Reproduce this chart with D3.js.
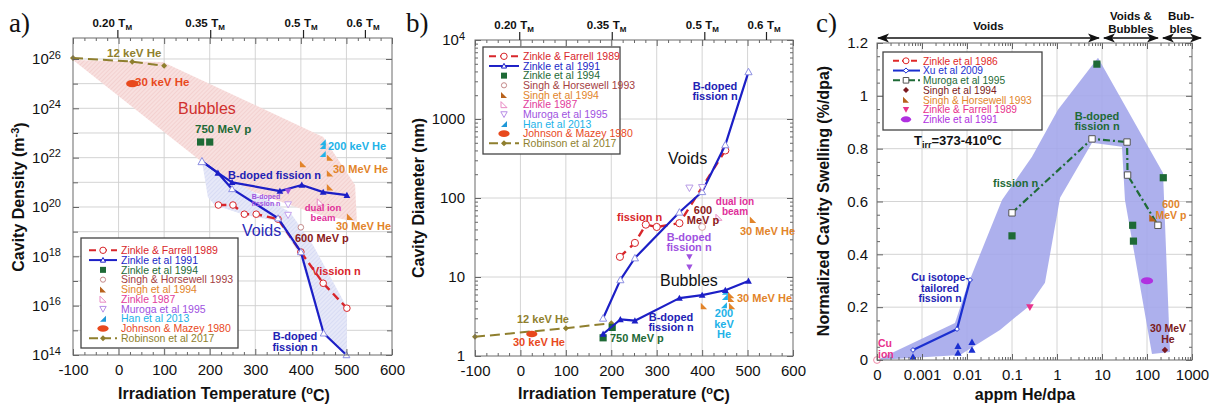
<!DOCTYPE html>
<html>
<head>
<meta charset="utf-8">
<script src="https://cdn.jsdelivr.net/npm/d3@7/dist/d3.min.js"></script>
<style>
  html, body { margin: 0; padding: 0; background: #fff; }
  svg { display: block; font-family: "Liberation Sans", Arial, Helvetica, sans-serif; }
</style>
</head>
<body>
<svg id="fig" width="1212" height="407"></svg>
<script>
// ---------- shared axis data ----------
const T_MELT_K = 1358;                       // melting point of Cu, K
const tmFractions = [0.20, 0.35, 0.5, 0.6];
const tmLabels = ["0.20", "0.35", "0.5", "0.6"];
const tempTicks = [-100, 0, 100, 200, 300, 400, 500, 600];

// ---------- (a) cavity density (m^-3) vs irradiation temperature (°C) ----------
const aDensityExp = [14, 16, 18, 20, 22, 24, 26];
const aZinkleFarrell1989 = [[219,1.2e20],[251,1.2e20],[276,5.1e19],[302,5.1e19],[350,3.2e19],[400,1.5e18],[449,8.1e16],[501,7.9e15]];
const aZinkle1991Bubbles = [[183,7.0e21],[218,2.4e21],[249,1.0e21],[354,4.4e20],[402,7.8e20],[449,4.0e20],[501,3.0e20]];
const aZinkle1991Voids = [[183,7.0e21],[218,2.4e21],[249,5.4e20],[350,3.5e19],[400,1.5e18],[450,7.6e14],[500,1.0e14]];
const aZinkle1994 = [[180,4.3e22],[200,4.3e22]];
const aSinghHorsewell1993 = [[400,1.5e19]];
const aSingh1994 = [[405,5.5e21],[464,1.0e22],[464,2.3e21],[464,6.3e20],[508,4.0e19]];
const aZinkle1987 = [[443,1.6e20]];
const aMuroga1995 = [[372,1.26e20],[372,4.7e19]];
const aMuroga1995Bdoped = [[372,4.4e20]];
const aHan2013 = [[448,4.2e22],[448,3.0e22],[448,1.4e22]];
const aJohnsonMazey1980 = [[30,1.0e25]];
const aRobinson2017 = [[-100,1.1e26],[30,7.8e25],[100,5.3e25]];
const aBubbleBand = [[-100,9.1e25],[97,7.6e25],[449,6.9e22],[519,7.8e20],[523,2.5e19],[442,4.7e19],[376,1.2e20],[255,7.8e20],[183,6.6e21]];
const aVoidBand = [[183,7.2e21],[249,1.2e21],[376,6.2e19],[427,2.8e18],[501,8.7e15],[501,1.0e14],[449,6.3e14],[398,1.1e18],[350,2.7e19],[277,4.7e19],[211,1.2e20],[196,2.5e20]];
const abLegendNames = ["Zinkle & Farrell 1989","Zinkle et al 1991","Zinkle et al 1994","Singh & Horsewell 1993","Singh et al 1994","Zinkle 1987","Muroga et al 1995","Han et al 2013","Johnson & Mazey 1980","Robinson et al 2017"];

// ---------- (b) cavity diameter (nm) vs irradiation temperature (°C) ----------
const bDiameterTicks = [1, 10, 100, 1000, 10000];
const bZinkleFarrell1989 = [[219,18],[252,27],[276,46],[300,43],[350,48],[451,400]];
const bZinkle1991Voids = [[182,3.0],[220,9.2],[252,17.4],[350,66],[400,120],[451,470],[502,3950]];
const bZinkle1991Bubbles = [[182,1.9],[220,2.9],[252,2.8],[350,5.4],[400,5.9],[451,6.8],[502,8.9]];
const bZinkle1994 = [[182,1.7],[202,2.3]];
const bSinghHorsewell1993 = [[400,43]];
const bSingh1994 = [[512,53],[404,4.3],[464,5.9],[464,5.3],[466,4.3]];
const bZinkle1987 = [[437,57]];
const bMuroga1995 = [[372,134],[400,136]];
const bMuroga1995Bdoped = [[372,18],[372,13.4]];
const bHan2013 = [[450,6.5],[450,5.6],[448,4.4]];
const bJohnsonMazey1980 = [[25,1.9]];
const bRobinson2017 = [[-100,1.75],[100,2.25],[200,2.6]];

// ---------- (c) normalized swelling (%/dpa) vs He/dpa ratio ----------
const cRatioTicks = [1e-4, 1e-3, 1e-2, 1e-1, 1, 10, 100, 1000];
const cRatioLabels = ["0", "0.001", "0.01", "0.1", "1", "10", "100", "1000"];
const cSwellTicks = [0, 0.2, 0.4, 0.6, 0.8, 1, 1.2];
const cZinkle1986 = [[1e-4, 0]];
const cXu2009 = [[0.00063,0.038],[0.0060,0.117],[0.0117,0.303]];
const cXu2009Other = [[0.00063,0.012],[0.0063,0.053],[0.0063,0.027],[0.0129,0.068],[0.0129,0.038]];
const cMuroga1995 = [[0.1,0.557],[6.0,0.837],[36,0.825],[37,0.70],[175,0.51]];
const cZinkle1994 = [[0.1,0.47],[7.7,1.12],[48,0.51],[50,0.45],[230,0.69]];
const cSingh1994 = [[250,0.038]];
const cSinghHorsewell1993 = [[135,0.538]];
const cZinkleFarrell1989 = [[0.25,0.2]];
const cZinkle1991 = [[100,0.30]];
const cBand = [[1e-4,0],[0.0054,0.140],[0.010,0.277],[0.060,0.606],[0.278,0.769],[1.05,0.947],[8.15,1.144],[227,0.708],[325,0.030],[129,0.023],[32.4,0.606],[27.8,0.807],[6.0,0.822],[1.17,0.614],[0.54,0.292],[0.227,0.201],[0.054,0.114],[0.007,0.019]];
const cRegimes = [
  { lines: ["Voids"], from: 1e-4, to: 9.0 },
  { lines: ["Voids &", "Bubbles"], from: 10.5, to: 184 },
  { lines: ["Bub-", "bles"], from: 215, to: 1670 }
];
const cLegendNames = ["Zinkle et al 1986","Xu et al 2009","Muroga et al 1995","Singh et al 1994","Singh & Horsewell 1993","Zinkle & Farrell 1989","Zinkle et al 1991"];

// ---------- drawing ----------
const FONT = '"Liberation Sans", Arial, Helvetica, sans-serif';
const COL = {
  zf: "#d8262b", z91: "#1c1fc6", z91o: "#8d8fe2", z94: "#1e6a36", sh: "#a4403f", s94: "#e2842a",
  z87: "#e23c9c", mu: "#a052df", han: "#22b2e8", jm: "#e8491d", rob: "#8f7f2e",
  xu: "#1b2fd0", sgc: "#7b1a20", pinkc: "#e8328c", purc: "#b030e0", grid: "#cfcfcf"
};
const svg = d3.select("#fig");
const defs = svg.append("defs");

function hatch(id, bg, fg) {
  const p = defs.append("pattern").attr("id", id).attr("patternUnits", "userSpaceOnUse")
    .attr("width", 3).attr("height", 3).attr("patternTransform", "rotate(45)");
  p.append("rect").attr("width", 3).attr("height", 3).attr("fill", bg);
  p.append("line").attr("x1", 0).attr("y1", 0).attr("x2", 0).attr("y2", 3)
    .attr("stroke", fg).attr("stroke-width", 1);
}
hatch("hatchPink", "#f8e0df", "#efc3c1");
hatch("hatchBlue", "#e6e8f8", "#cbd0f1");

defs.append("marker").attr("id", "arrowHead").attr("viewBox", "0 0 12 10")
  .attr("refX", 11).attr("refY", 5).attr("markerUnits", "userSpaceOnUse")
  .attr("markerWidth", 12).attr("markerHeight", 10).attr("orient", "auto-start-reverse")
  .append("path").attr("d", "M0,0.5 L12,5 L0,9.5 L3,5Z").attr("fill", "#111");

function shapePath(type, a) {
  switch (type) {
    case "circle": return `M${-a},0A${a},${a} 0 1,0 ${a},0A${a},${a} 0 1,0 ${-a},0Z`;
    case "ellipse": { const rx = a * 1.7; return `M${-rx},0A${rx},${a} 0 1,0 ${rx},0A${rx},${a} 0 1,0 ${-rx},0Z`; }
    case "square": return `M${-a},${-a}H${a}V${a}H${-a}Z`;
    case "triUp": return `M0,${-a}L${a},${a * 0.8}L${-a},${a * 0.8}Z`;
    case "triDown": return `M0,${a}L${a},${-a * 0.8}L${-a},${-a * 0.8}Z`;
    case "halfLL": return `M${-a},${-a}L${-a},${a}L${a},${a}Z`;
    case "halfLR": return `M${a},${-a}L${a},${a}L${-a},${a}Z`;
    case "diamond": return `M0,${-a}L${a},0L0,${a}L${-a},0Z`;
  }
}

function drawPoints(g, data, xs, ys, st) {
  g.append("g").selectAll("path").data(data).join("path")
    .attr("transform", d => `translate(${xs(d[0])},${ys(d[1])})`)
    .attr("d", shapePath(st.shape, st.size || 3))
    .attr("fill", st.fill || "none")
    .attr("stroke", st.stroke || "none")
    .attr("stroke-width", st.sw || 1);
}

function drawLine(g, data, xs, ys, color, width, dash) {
  g.append("path").datum(data)
    .attr("d", d3.line().x(d => xs(d[0])).y(d => ys(d[1])))
    .attr("fill", "none").attr("stroke", color).attr("stroke-width", width)
    .attr("stroke-dasharray", dash || null).attr("stroke-linejoin", "round");
}

function drawArea(g, data, xs, ys, fill, opacity) {
  g.append("path").datum(data)
    .attr("d", d3.line().x(d => xs(d[0])).y(d => ys(d[1])).curve(d3.curveLinearClosed))
    .attr("fill", fill).attr("fill-opacity", opacity == null ? 1 : opacity).attr("stroke", "none");
}

function grid(g, xs, ys, gx, gy) {
  const [xl, xr] = xs.range(), [yb, yt] = ys.range();
  g.append("g").selectAll("line").data(gx).join("line")
    .attr("x1", d => xs(d)).attr("x2", d => xs(d)).attr("y1", yt).attr("y2", yb)
    .attr("stroke", COL.grid).attr("stroke-width", 0.9);
  g.append("g").selectAll("line").data(gy).join("line")
    .attr("x1", xl).attr("x2", xr).attr("y1", d => ys(d)).attr("y2", d => ys(d))
    .attr("stroke", COL.grid).attr("stroke-width", 0.9);
}

function axes(g, xs, ys, o) {
  const [xl, xr] = xs.range(), [yb, yt] = ys.range();
  const mk = (axisFn, scale, vals, size, pos, fmt, pad) => {
    const ax = axisFn(scale).tickValues(vals).tickSize(size).tickPadding(pad || 3)
      .tickFormat(fmt || (() => ""));
    const sel = g.append("g").attr("transform", pos).call(ax);
    sel.select(".domain").remove();
    sel.attr("color", "#555").attr("font-family", FONT).attr("font-size", 15);
    sel.selectAll(".tick line").attr("stroke-width", 0.9);
    sel.selectAll(".tick text").attr("fill", "#111");
    return sel;
  };
  mk(d3.axisBottom, xs, o.xMajor, -6, `translate(0,${yb})`, o.xFmt, 9);
  mk(d3.axisBottom, xs, o.xMinor, -3, `translate(0,${yb})`);
  mk(d3.axisTop, xs, o.xMajor, -6, `translate(0,${yt})`);
  mk(d3.axisTop, xs, o.xMinor, -3, `translate(0,${yt})`);
  const ly = mk(d3.axisLeft, ys, o.yMajor, -6, `translate(${xl},0)`, o.yFmt, o.yPad);
  mk(d3.axisLeft, ys, o.yMinor, -(o.yMinorSize || 3), `translate(${xl},0)`);
  mk(d3.axisRight, ys, o.yMajor, -6, `translate(${xr},0)`);
  mk(d3.axisRight, ys, o.yMinor, -(o.yMinorSize || 3), `translate(${xr},0)`);
  if (o.yRich) ly.selectAll(".tick text").each(o.yRich);
  g.append("rect").attr("x", xl).attr("y", yt).attr("width", xr - xl).attr("height", yb - yt)
    .attr("fill", "none").attr("stroke", "#6a6a6a").attr("stroke-width", 1);
}

function powerLabel(d) {
  const e = Math.round(Math.log10(d));
  const t = d3.select(this);
  t.text(null);
  t.append("tspan").text("10");
  t.append("tspan").attr("dy", "-0.5em").attr("font-size", "11px").text(e);
}

function meltingAxis(g, xs, yTop) {
  tmFractions.forEach((f, i) => {
    const x = xs(f * T_MELT_K - 273.15);
    g.append("line").attr("x1", x).attr("x2", x).attr("y1", yTop - 8).attr("y2", yTop)
      .attr("stroke", "#222").attr("stroke-width", 1.2);
    g.append("text").attr("x", x - 3).attr("y", yTop - 11).attr("text-anchor", "end")
      .attr("font-weight", "bold").attr("font-size", 11.5).attr("fill", "#111").text(tmLabels[i]);
    const t = g.append("text").attr("x", x + 0.5).attr("y", yTop - 11)
      .attr("font-weight", "bold").attr("font-size", 11.5).attr("fill", "#111");
    t.append("tspan").text("T");
    t.append("tspan").attr("dy", 3).attr("font-size", 8).text("M");
  });
}

function note(g, x, y, lines, o) {
  const lh = o.lh || 10.5;
  lines.forEach((s, i) => {
    g.append("text").attr("x", x).attr("y", y + i * lh)
      .attr("text-anchor", o.anchor || "start")
      .attr("font-size", o.size || 11).attr("font-weight", o.weight || "bold")
      .attr("fill", o.color).text(s);
  });
}

function legend(g, box, names, styles, lay) {
  g.append("rect").attr("x", box[0]).attr("y", box[1]).attr("width", box[2]).attr("height", box[3])
    .attr("fill", "#fff").attr("stroke", "#444").attr("stroke-width", 1.3);
  names.forEach((name, i) => {
    const st = styles[i];
    const base = lay.first + i * lay.step, cy = base - 3.7;
    if (st.line) {
      g.append("line").attr("x1", lay.l0).attr("x2", lay.l1).attr("y1", cy).attr("y2", cy)
        .attr("stroke", st.color).attr("stroke-width", st.lw || 2).attr("stroke-dasharray", st.dash || null);
    }
    if (st.shape) {
      g.append("path").attr("transform", `translate(${lay.m},${cy})`)
        .attr("d", shapePath(st.shape, st.size || 3))
        .attr("fill", st.fill || "none").attr("stroke", st.stroke || "none").attr("stroke-width", st.sw || 1);
    }
    g.append("text").attr("x", lay.t).attr("y", base).attr("fill", st.text || st.color)
      .attr("font-size", lay.fs || 10.5).text(name);
  });
}

function axisTitle(g, x, y, parts, rotate) {
  const t = g.append("text").attr("text-anchor", "middle").attr("font-weight", "bold")
    .attr("font-size", 16).attr("fill", "#111")
    .attr("transform", rotate ? `translate(${x},${y}) rotate(-90)` : `translate(${x},${y})`);
  parts.forEach(p => {
    if (typeof p === "string") t.append("tspan").text(p);
    else {
      t.append("tspan").attr("dy", "-0.45em").attr("font-size", 11).text(p.sup);
      t.append("tspan").attr("dy", "0.45em").text(p.after);
    }
  });
}

const abLegendStyles = [
  { color: COL.zf, line: true, dash: "7,4", shape: "circle", size: 3.2, fill: "#fff", stroke: COL.zf },
  { color: COL.z91, line: true, shape: "triUp", size: 2.6, fill: "#fff", stroke: COL.z91 },
  { color: COL.z94, shape: "square", size: 3, fill: COL.z94 },
  { color: COL.sh, shape: "circle", size: 2.6, fill: "#fff", stroke: "#c48a8a" },
  { color: COL.s94, shape: "halfLL", size: 3, fill: "#b8621c" },
  { color: COL.z87, shape: "halfLL", size: 3, fill: "#fff", stroke: "#e88ac4" },
  { color: COL.mu, shape: "triDown", size: 3.2, fill: "#fff", stroke: "#b78de6" },
  { color: COL.han, shape: "halfLR", size: 3, fill: "#1f98d8" },
  { color: COL.jm, shape: "ellipse", size: 3.3, fill: COL.jm },
  { color: COL.rob, line: true, dash: "9,4", shape: "diamond", size: 3, fill: COL.rob }
];

// ================= panel (a) =================
{
  const g = svg.append("g");
  const xs = d3.scaleLinear().domain([-100, 600]).range([73, 392]);
  const ys = d3.scaleLog().domain([1e14, Math.pow(10, 26.85)]).range([355, 38]);
  grid(g, xs, ys, tempTicks.slice(1, -1), d3.range(15, 27).map(e => Math.pow(10, e)));

  drawArea(g, aBubbleBand, xs, ys, "url(#hatchPink)");
  drawArea(g, aVoidBand, xs, ys, "url(#hatchBlue)");

  drawLine(g, aRobinson2017, xs, ys, COL.rob, 2, "10,5");
  drawPoints(g, aRobinson2017, xs, ys, { shape: "diamond", size: 3, fill: COL.rob });
  drawPoints(g, aJohnsonMazey1980, xs, ys, { shape: "ellipse", size: 3.6, fill: COL.jm });
  drawPoints(g, aZinkle1994, xs, ys, { shape: "square", size: 3.6, fill: COL.z94 });
  drawPoints(g, aHan2013, xs, ys, { shape: "halfLR", size: 3, fill: COL.han });
  drawPoints(g, aSingh1994, xs, ys, { shape: "halfLL", size: 3.2, fill: COL.s94 });

  drawLine(g, aZinkleFarrell1989, xs, ys, COL.zf, 2.4, "8,5");
  drawPoints(g, aZinkleFarrell1989, xs, ys, { shape: "circle", size: 3.3, fill: "#fff", stroke: COL.zf });
  drawLine(g, aZinkle1991Voids, xs, ys, COL.z91, 2.2);
  drawLine(g, aZinkle1991Bubbles, xs, ys, COL.z91, 2.2);
  drawPoints(g, aZinkle1991Bubbles, xs, ys, { shape: "triUp", size: 3.4, fill: COL.z91 });
  drawPoints(g, aZinkle1991Voids.slice(2), xs, ys, { shape: "triUp", size: 3.4, fill: "#fff", stroke: COL.z91o });
  drawPoints(g, aZinkle1991Voids.slice(0, 1), xs, ys, { shape: "triUp", size: 4, fill: "#fff", stroke: COL.z91o });
  drawPoints(g, aMuroga1995, xs, ys, { shape: "triDown", size: 3.4, fill: "#fff", stroke: "#c5a2ee" });
  drawPoints(g, aMuroga1995Bdoped, xs, ys, { shape: "triDown", size: 3.4, fill: COL.mu });
  drawPoints(g, aSinghHorsewell1993, xs, ys, { shape: "circle", size: 2.8, fill: "#fff", stroke: "#c48a8a" });
  drawPoints(g, aZinkle1987, xs, ys, { shape: "halfLL", size: 3.2, fill: "#fff", stroke: "#e88ac4" });

  axes(g, xs, ys, {
    xMajor: tempTicks, xMinor: d3.range(-100, 601, 25).filter(v => v % 100 !== 0), xFmt: d => d,
    yMajor: aDensityExp.map(e => Math.pow(10, e)),
    yMinor: [15, 17, 19, 21, 23, 25].map(e => Math.pow(10, e)), yMinorSize: 5,
    yFmt: d => d, yPad: 12, yRich: powerLabel
  });
  meltingAxis(g, xs, 38);

  note(g, 107, 57, ["12 keV He"], { color: COL.rob, size: 11.5 });
  note(g, 135, 86, ["30 keV He"], { color: COL.jm, size: 11.5 });
  note(g, 178, 114, ["Bubbles"], { color: "#d0302e", size: 16, weight: "normal" });
  note(g, 195, 133, ["750 MeV p"], { color: COL.z94, size: 11.5 });
  note(g, 328, 150, ["200 keV He"], { color: COL.han, size: 11 });
  note(g, 333, 173, ["30 MeV He"], { color: COL.s94, size: 11 });
  note(g, 228, 179, ["B-doped fission n"], { color: "#2222b4", size: 11 });
  note(g, 266, 199, ["B-doped", "fission n"], { color: COL.mu, size: 7, lh: 7, anchor: "middle" });
  note(g, 323, 211, ["dual ion", "beam"], { color: "#e0309a", size: 9.5, lh: 10, anchor: "middle" });
  note(g, 336, 230, ["30 MeV He"], { color: COL.s94, size: 11 });
  note(g, 242, 236, ["Voids"], { color: "#2a2ab8", size: 16, weight: "normal" });
  note(g, 295, 242, ["600 MeV p"], { color: "#8b1a1a", size: 11 });
  note(g, 312, 275, ["Vission n"], { color: COL.zf, size: 11 });
  note(g, 295, 340, ["B-doped", "fission n"], { color: "#2222b4", size: 11, lh: 10.5, anchor: "middle" });

  legend(g, [81, 238, 157, 110], abLegendNames, abLegendStyles,
    { first: 254, step: 9.78, l0: 89, l1: 117, m: 103, t: 121 });

  axisTitle(g, 224, 399, ["Irradiation Temperature (", { sup: "o", after: "C)" }]);
  axisTitle(g, 24, 197, ["Cavity Density (m", { sup: "-3", after: ")" }], true);
  g.append("text").attr("x", 9).attr("y", 32).attr("font-family", '"Liberation Serif", "Times New Roman", serif')
    .attr("font-size", 27).attr("fill", "#111").text("a)");
}

// ================= panel (b) =================
{
  const g = svg.append("g");
  const xs = d3.scaleLinear().domain([-100, 600]).range([475, 793]);
  const ys = d3.scaleLog().domain([1, 1e4]).range([356, 40]);
  grid(g, xs, ys, tempTicks.slice(1, -1), [10, 100, 1000]);

  drawLine(g, bRobinson2017, xs, ys, COL.rob, 2, "10,5");
  drawPoints(g, bRobinson2017, xs, ys, { shape: "diamond", size: 3, fill: COL.rob });
  drawPoints(g, bJohnsonMazey1980, xs, ys, { shape: "ellipse", size: 3.3, fill: COL.jm });
  drawPoints(g, bZinkle1994, xs, ys, { shape: "square", size: 3.6, fill: COL.z94 });
  drawPoints(g, bHan2013, xs, ys, { shape: "halfLR", size: 3, fill: COL.han });
  drawPoints(g, bSingh1994, xs, ys, { shape: "halfLL", size: 3.2, fill: COL.s94 });

  drawLine(g, bZinkleFarrell1989, xs, ys, COL.zf, 2.4, "8,6");
  drawPoints(g, bZinkleFarrell1989, xs, ys, { shape: "circle", size: 3.6, fill: "#fff", stroke: COL.zf });
  drawLine(g, bZinkle1991Voids, xs, ys, COL.z91, 2.2);
  drawLine(g, bZinkle1991Bubbles, xs, ys, COL.z91, 2.2);
  drawPoints(g, bZinkle1991Voids, xs, ys, { shape: "triUp", size: 3.6, fill: "#fff", stroke: COL.z91o });
  drawPoints(g, bZinkle1991Bubbles, xs, ys, { shape: "triUp", size: 3.4, fill: COL.z91 });
  drawPoints(g, bSinghHorsewell1993, xs, ys, { shape: "circle", size: 3.4, fill: "#fff", stroke: "#d9a0a0" });
  drawPoints(g, bZinkle1987, xs, ys, { shape: "halfLL", size: 3, fill: "#fff", stroke: "#e88ac4" });
  drawPoints(g, bMuroga1995, xs, ys, { shape: "triDown", size: 3.6, fill: "#fff", stroke: "#b79be6" });
  drawPoints(g, bMuroga1995Bdoped, xs, ys, { shape: "triDown", size: 3.2, fill: COL.mu });

  const minorLog = [];
  [1, 10, 100, 1000].forEach(b => d3.range(2, 10).forEach(k => minorLog.push(b * k)));
  axes(g, xs, ys, {
    xMajor: tempTicks, xMinor: d3.range(-100, 601, 25).filter(v => v % 100 !== 0), xFmt: d => d,
    yMajor: bDiameterTicks, yMinor: minorLog,
    yFmt: d => d, yPad: 10,
    yRich: function (d) { if (d >= 1e4) powerLabel.call(this, d); }
  });
  meltingAxis(g, xs, 40);

  legend(g, [483, 47, 137, 107], abLegendNames, abLegendStyles,
    { first: 60, step: 9.67, l0: 489, l1: 519, m: 504, t: 523 });

  note(g, 715, 90, ["B-doped", "fission n"], { color: "#2222b4", size: 11, lh: 10, anchor: "middle" });
  note(g, 668, 164, ["Voids"], { color: "#111", size: 16, weight: "normal" });
  note(g, 703, 214, ["600", "MeV p"], { color: "#8b1a1a", size: 11, lh: 10, anchor: "middle" });
  note(g, 617, 221, ["fission n"], { color: COL.zf, size: 11 });
  note(g, 735, 205, ["dual ion", "beam"], { color: "#e0309a", size: 10, lh: 10, anchor: "middle" });
  note(g, 740, 235, ["30 MeV He"], { color: COL.s94, size: 11 });
  note(g, 689, 241, ["B-doped", "fission n"], { color: COL.mu, size: 11, lh: 10, anchor: "middle" });
  note(g, 660, 286, ["Bubbles"], { color: "#111", size: 16, weight: "normal" });
  note(g, 671, 321, ["B-doped", "fission n"], { color: "#2222b4", size: 11, lh: 10, anchor: "middle" });
  note(g, 737, 302, ["30 MeV He"], { color: COL.s94, size: 11 });
  note(g, 724, 317, ["200", "keV", "He"], { color: COL.han, size: 11, lh: 10.5, anchor: "middle" });
  note(g, 517, 323, ["12 keV He"], { color: COL.rob, size: 11 });
  note(g, 513, 346, ["30 keV He"], { color: COL.jm, size: 11 });
  note(g, 610, 342, ["750 MeV p"], { color: COL.z94, size: 11 });

  axisTitle(g, 624, 399, ["Irradiation Temperature (", { sup: "o", after: "C)" }]);
  axisTitle(g, 424, 198, ["Cavity Diameter (nm)"], true);
  g.append("text").attr("x", 406).attr("y", 32).attr("font-family", '"Liberation Serif", "Times New Roman", serif')
    .attr("font-size", 27).attr("fill", "#111").text("b)");
}

// ================= panel (c) =================
{
  const g = svg.append("g");
  const xs = d3.scaleLog().domain([1e-4, 1e3]).range([877, 1192]);
  const ys = d3.scaleLinear().domain([0, 1.2]).range([360, 43]);
  grid(g, xs, ys, cRatioTicks.slice(1, -1), cSwellTicks.slice(1, -1));

  drawArea(g, cBand, xs, ys, "#a2a5eb", 0.88);

  drawLine(g, cXu2009, xs, ys, COL.xu, 2.2);
  drawPoints(g, cXu2009Other, xs, ys, { shape: "triUp", size: 3.6, fill: COL.xu });
  drawPoints(g, cXu2009, xs, ys, { shape: "diamond", size: 2.4, fill: "#fff", stroke: COL.xu });
  drawLine(g, cMuroga1995, xs, ys, COL.z94, 2.2, "7,3,2,3");
  drawPoints(g, cMuroga1995, xs, ys, { shape: "square", size: 3.2, fill: "#fff", stroke: "#555" });
  drawPoints(g, cZinkle1994, xs, ys, { shape: "square", size: 3.6, fill: COL.z94 });
  drawPoints(g, cSingh1994, xs, ys, { shape: "diamond", size: 3.2, fill: COL.sgc });
  drawPoints(g, cSinghHorsewell1993, xs, ys, { shape: "halfLL", size: 3.6, fill: "#b8621c" });
  drawPoints(g, cZinkleFarrell1989, xs, ys, { shape: "triDown", size: 3.8, fill: COL.pinkc });
  drawPoints(g, cZinkle1991, xs, ys, { shape: "ellipse", size: 3.6, fill: COL.purc });
  drawPoints(g, cZinkle1986, xs, ys, { shape: "circle", size: 3.4, fill: "#fff", stroke: "#f08aa8" });

  const minorLog = [];
  d3.range(-4, 3).forEach(e => d3.range(2, 10).forEach(k => minorLog.push(k * Math.pow(10, e))));
  const labelOf = new Map(cRatioTicks.map((v, i) => [v, cRatioLabels[i]]));
  axes(g, xs, ys, {
    xMajor: cRatioTicks, xMinor: minorLog, xFmt: d => labelOf.get(d),
    yMajor: cSwellTicks, yMinor: d3.range(0.05, 1.2, 0.05).filter(v => Math.abs(v / 0.2 - Math.round(v / 0.2)) > 0.01),
    yFmt: d => d3.format("~g")(d), yPad: 9
  });

  // damage-regime arrows along the top
  cRegimes.forEach(r => {
    const x0 = xs(r.from), x1 = xs(r.to);
    g.append("line").attr("x1", x0 + 1).attr("x2", x1 - 1).attr("y1", 38).attr("y2", 38)
      .attr("stroke", "#111").attr("stroke-width", 1.4)
      .attr("marker-start", "url(#arrowHead)").attr("marker-end", "url(#arrowHead)");
    const cx = (x0 + Math.min(x1, 1200)) / 2;
    const base = r.lines.length > 1 ? 20 : 30;
    note(g, cx, base, r.lines, { color: "#111", size: 11.5, lh: 12.5, anchor: "middle" });
  });

  legend(g, [883, 52, 159, 78], cLegendNames, [
    { color: "#e02828", line: true, dash: "6,3", shape: "circle", size: 3, fill: "#fff", stroke: "#e02828" },
    { color: COL.xu, line: true, shape: "diamond", size: 2.6, fill: "#fff", stroke: COL.xu },
    { color: COL.z94, line: true, dash: "7,3,2,3", shape: "square", size: 2.8, fill: "#fff", stroke: "#555" },
    { color: COL.sgc, shape: "diamond", size: 3, fill: COL.sgc },
    { color: COL.s94, shape: "halfLL", size: 3, fill: "#b8621c" },
    { color: COL.pinkc, shape: "triDown", size: 3.2, fill: COL.pinkc },
    { color: COL.purc, shape: "ellipse", size: 3, fill: COL.purc }
  ], { first: 64.5, step: 9.75, l0: 893, l1: 920, m: 906, t: 923, fs: 10.2 });

  const tir = g.append("text").attr("x", 914).attr("y", 145).attr("font-weight", "bold")
    .attr("font-size", 13).attr("fill", "#111");
  tir.append("tspan").text("T");
  tir.append("tspan").attr("dy", 3).attr("font-size", 9).text("irr");
  tir.append("tspan").attr("dy", -3).text("=373-410");
  tir.append("tspan").attr("dy", -5).attr("font-size", 9).text("o");
  tir.append("tspan").attr("dy", 5).text("C");

  note(g, 1097, 120, ["B-doped", "fission n"], { color: COL.z94, size: 11, lh: 10, anchor: "middle" });
  note(g, 993, 187, ["fission n"], { color: COL.z94, size: 11 });
  note(g, 1171, 208, ["600", "MeV p"], { color: COL.s94, size: 10.5, lh: 11, anchor: "middle" });
  note(g, 940, 281, ["Cu isotope-", "tailored", "fission n"], { color: "#2222b4", size: 10.5, lh: 10.5, anchor: "middle" });
  note(g, 1168, 332, ["30 MeV", "He"], { color: COL.sgc, size: 10.5, lh: 10.5, anchor: "middle" });
  note(g, 878, 347, ["Cu", "ion"], { color: COL.pinkc, size: 10.5, lh: 10.5 });

  axisTitle(g, 1025, 400, ["appm He/dpa"]);
  axisTitle(g, 829, 201, ["Normalized Cavity Swelling (%/dpa)"], true);
  g.append("text").attr("x", 816).attr("y", 32).attr("font-family", '"Liberation Serif", "Times New Roman", serif')
    .attr("font-size", 27).attr("fill", "#111").text("c)");
}
</script>
</body>
</html>
